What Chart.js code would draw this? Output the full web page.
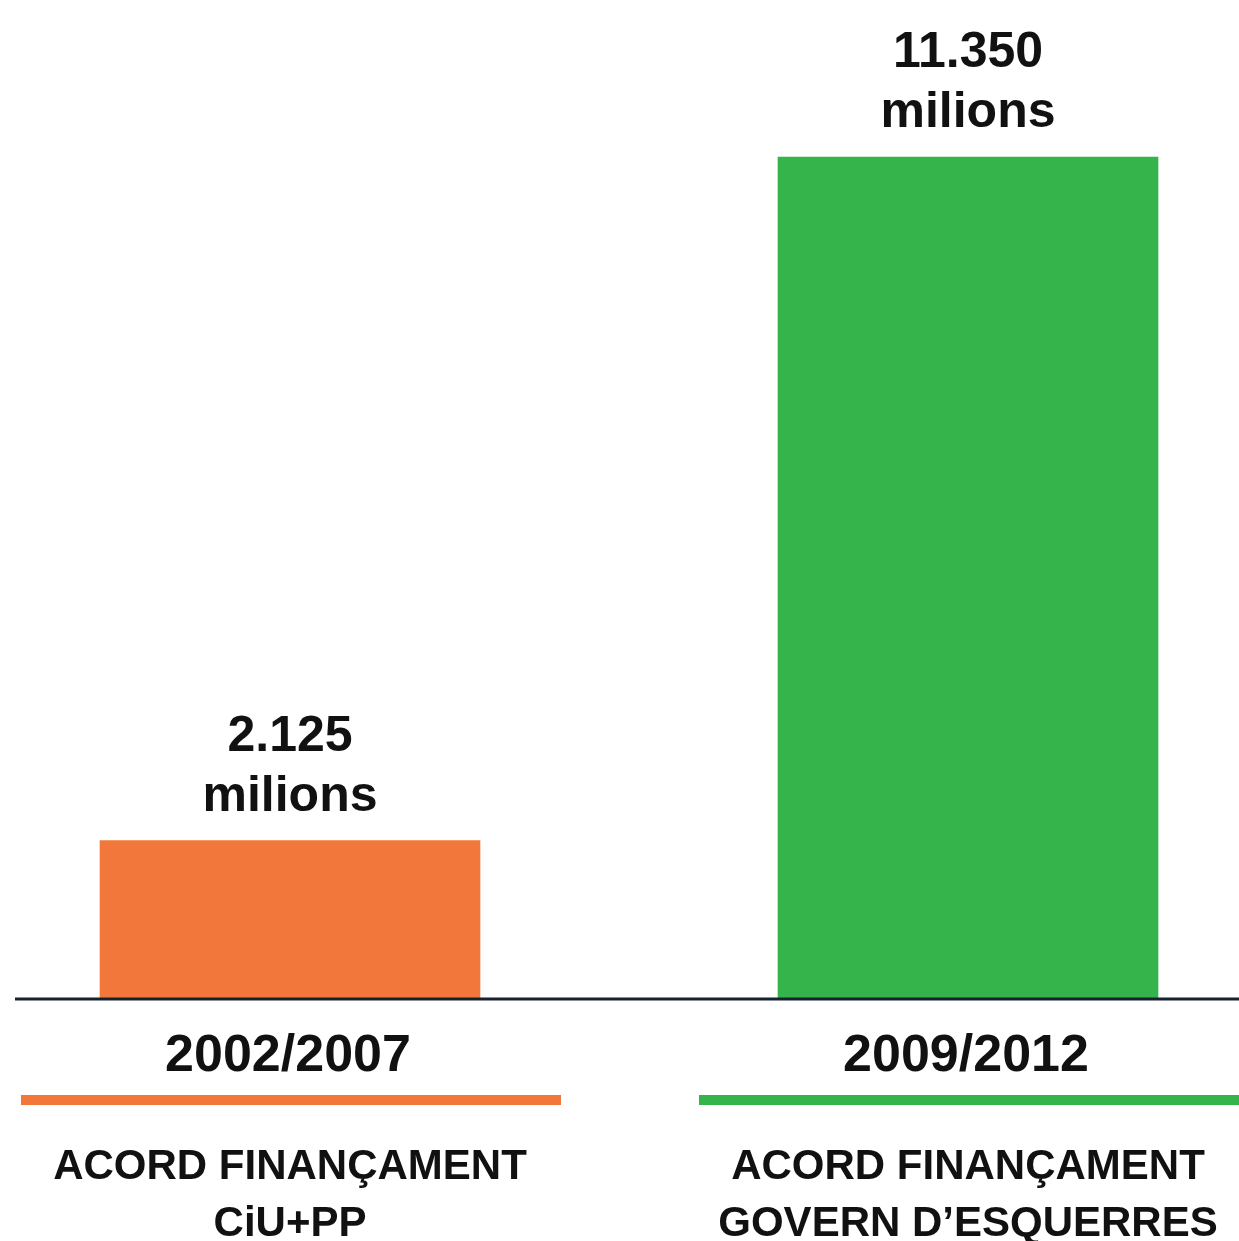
<!DOCTYPE html>
<html>
<head>
<meta charset="utf-8">
<script src="https://cdn.jsdelivr.net/npm/chart.js@4"></script>
<style>
  html, body { margin: 0; padding: 0; background: #fff; }
  #wrap { width: 1239px; height: 1241px; position: relative; }
</style>
</head>
<body>
<div id="wrap"><canvas id="chartFin"></canvas></div>
<script>
const periods = ["2002/2007", "2009/2012"];
const amounts = [2125, 11350];
const valueLabels = ["2.125", "11.350"];
const unitLabel = "milions";
const agreements = [
  ["ACORD FINANÇAMENT", "CiU+PP"],
  ["ACORD FINANÇAMENT", "GOVERN D\u2019ESQUERRES"]
];
const barColors = ["#F1783A", "#34B44A"];

const FONT = "'Liberation Sans', Arial, Helvetica, sans-serif";

// baseline, value labels and captions under each bar
const labelsPlugin = {
  id: "labels",
  afterDatasetsDraw(chart) {
    const { ctx, chartArea } = chart;
    const meta = chart.getDatasetMeta(0);
    const base = chartArea.bottom;

    ctx.save();
    ctx.strokeStyle = "#18222e";
    ctx.lineWidth = 3;
    ctx.beginPath();
    ctx.moveTo(15, base + 1);
    ctx.lineTo(chart.width, base + 1);
    ctx.stroke();

    ctx.fillStyle = "#111";
    ctx.textAlign = "center";
    ctx.textBaseline = "alphabetic";

    meta.data.forEach((bar, i) => {
      const x = bar.x;

      ctx.font = "bold 50px " + FONT;
      ctx.fillText(valueLabels[i], x, bar.y - 90);
      ctx.fillText(unitLabel, x, bar.y - 30);

      ctx.font = "bold 52px " + FONT;
      ctx.fillText(periods[i], x - 2, base + 73);

      ctx.fillStyle = barColors[i];
      ctx.fillRect(x - 269, base + 97, 540, 10);
      ctx.fillStyle = "#111";

      ctx.font = "bold 42px " + FONT;
      ctx.fillText(agreements[i][0], x, base + 181);
      ctx.fillText(agreements[i][1], x, base + 238);
    });
    ctx.restore();
  }
};

new Chart(document.getElementById("chartFin"), {
  type: "bar",
  data: {
    labels: periods,
    datasets: [{
      data: amounts,
      backgroundColor: barColors,
      borderWidth: 0,
      barThickness: 380,
      clip: false
    }]
  },
  options: {
    responsive: true,
    maintainAspectRatio: false,
    animation: false,
    layout: { padding: { left: 290, right: 271, top: 157, bottom: 243 } },
    plugins: {
      legend: { display: false },
      tooltip: { enabled: false }
    },
    scales: {
      x: { display: false, offset: false },
      y: { display: false, min: 0, max: 11350 }
    }
  },
  plugins: [labelsPlugin]
});
</script>
</body>
</html>
